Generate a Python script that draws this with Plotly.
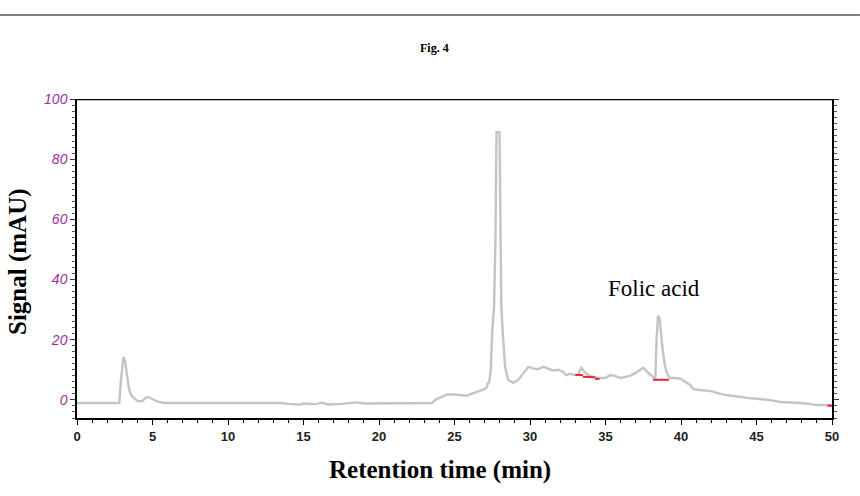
import plotly.graph_objects as go

# Chromatogram trace (retention time in min, signal in mAU)
rt = [0, 2.8, 2.9, 3.0, 3.08, 3.2, 3.3, 3.4, 3.5, 3.6, 3.8, 4.0, 4.3, 4.6, 4.8, 5.0, 5.3, 5.8,
      8.0, 11.0, 13.5, 14.0, 14.8, 15.0, 15.8, 16.2, 16.6, 17.5, 18.0, 18.5, 19.0, 21.0,
      23.0, 23.5, 23.8, 24.0, 24.3, 24.5, 25.0, 25.5, 25.8, 26.2, 26.6, 27.0, 27.15, 27.2,
      27.3, 27.4, 27.5, 27.62, 27.72, 27.78, 27.98, 28.05, 28.1, 28.2, 28.35, 28.55, 28.9,
      29.2, 29.5, 29.9, 30.2, 30.5, 30.9, 31.2, 31.5, 31.9, 32.2, 32.4, 32.6, 33.0, 33.2,
      33.4, 33.6, 33.8, 34.0, 34.5, 35.0, 35.3, 35.6, 36.0, 36.6, 37.0, 37.3, 37.5, 37.9,
      38.2, 38.3, 38.38, 38.48, 38.58, 38.68, 38.8, 38.95, 39.1, 39.25, 39.6, 40.0, 40.3,
      40.6, 40.8, 41.2, 41.9, 42.5, 42.9, 43.5, 43.9, 44.5, 45.2, 45.8, 46.6, 47.3, 47.9,
      48.5, 48.9, 49.5, 50.0]
signal = [-1, -1, 6, 12, 14.3, 12.5, 8, 5, 2.7, 1.5, 0.5, -0.3, -0.5, 1, 0.8, 0.2, -0.5, -1,
          -1, -1, -1, -1.3, -1.5, -1.2, -1.4, -0.9, -1.5, -1.3, -1.0, -0.8, -1.2, -1.2,
          -1.1, -1.0, 0.2, 0.6, 1.2, 1.8, 1.8, 1.6, 1.4, 2.2, 2.8, 3.6, 4.3, 5.5,
          6, 10, 23, 31, 56, 89, 89, 56, 31, 22, 11, 6.7, 5.7,
          6.5, 8.5, 11, 10.5, 10.2, 11, 10.3, 9.8, 10.0, 9.3, 8.2, 8.7, 8.3, 8.6,
          10.7, 9.3, 8.5, 8.0, 7.3, 7.3, 8.3, 8.0, 7.3, 8.0, 9.0, 10.0, 10.7, 8.7,
          7.2, 7.0, 20, 28, 27, 22, 16, 11, 8.5, 7.3, 7.3, 7.0, 6.0,
          5.0, 3.7, 3.3, 3.0, 2.3, 1.7, 1.3, 1.0, 0.6, 0.3, 0.0, -0.7, -0.8, -1.0,
          -1.3, -1.7, -1.7, -1.8]

# Integration baselines (red)
base_segments = [
    ([33.0, 33.5], [8.3, 8.3]),
    ([33.5, 34.3], [7.7, 7.5]),
    ([34.3, 34.6], [7.0, 7.0]),
    ([38.15, 39.2], [6.7, 6.7]),
    ([49.7, 50.0], [-1.9, -1.9]),
]

x_ticks = [0, 5, 10, 15, 20, 25, 30, 35, 40, 45, 50]
y_ticks = [0, 20, 40, 60, 80, 100]

fig = go.Figure()
fig.add_trace(go.Scatter(x=rt, y=signal, mode="lines",
                         line=dict(color="#c4c4c4", width=2.4), hoverinfo="skip",
                         showlegend=False))
for xs, ys in base_segments:
    fig.add_trace(go.Scatter(x=xs, y=ys, mode="lines", line=dict(color="#e8262a", width=2),
                             showlegend=False, hoverinfo="skip"))

fig.update_layout(
    width=860, height=496,
    margin=dict(l=77, r=28, t=99, b=78),
    paper_bgcolor="white", plot_bgcolor="white",
    xaxis=dict(range=[0, 50], tickvals=x_ticks, ticktext=[str(v) for v in x_ticks],
               showgrid=False, zeroline=False, showline=True, linecolor="black", linewidth=2,
               ticks="outside", ticklen=5, tickcolor="black", mirror=False,
               minor=dict(dtick=1, ticks="outside", ticklen=3, tickcolor="black"),
               tickfont=dict(family="Arial, Liberation Sans", size=13, color="#222", weight="bold")),
    yaxis=dict(range=[-6, 100], tickvals=y_ticks, ticktext=[str(v) for v in y_ticks],
               showgrid=False, zeroline=False, showline=True, linecolor="black", linewidth=1.5,
               ticks="outside", ticklen=5, tickcolor="#333", mirror="ticks",
               minor=dict(dtick=2, ticks="outside", ticklen=3, tickcolor="#555"),
               tickfont=dict(family="Arial, Liberation Sans", size=14, color="#9a2fa0",
                             style="italic")),
)

# top border line at 100
fig.add_shape(type="line", xref="paper", yref="y", x0=0, x1=1, y0=100, y1=100,
              line=dict(color="black", width=2.5))
# header rule
fig.add_shape(type="line", xref="paper", yref="paper", x0=-0.102, x1=1.037, y0=1.263, y1=1.263,
              line=dict(color="#555", width=1.5))

fig.add_annotation(text="<b>Fig. 4</b>", xref="paper", yref="paper", x=0.474, y=(418 - 48) / 319,
                   xanchor="center", yanchor="middle", showarrow=False,
                   font=dict(family="Liberation Serif", size=12, color="black"))
fig.add_annotation(text="Folic acid", xref="x", yref="y", x=38.2, y=37, showarrow=False,
                   xanchor="center", yanchor="middle",
                   font=dict(family="Liberation Serif", size=23, color="black"))
fig.add_annotation(text="<b>Signal (mAU)</b>", xref="paper", yref="paper",
                   x=(18 - 77) / 755, y=(418 - 262) / 319, textangle=-90, showarrow=False,
                   xanchor="center", yanchor="middle",
                   font=dict(family="Liberation Serif", size=25, color="black"))
fig.add_annotation(text="<b>Retention time (min)</b>", xref="paper", yref="paper",
                   x=(440 - 77) / 755, y=(418 - 470) / 319, showarrow=False,
                   xanchor="center", yanchor="middle",
                   font=dict(family="Liberation Serif", size=25, color="black"))

fig.write_html("out.html")
